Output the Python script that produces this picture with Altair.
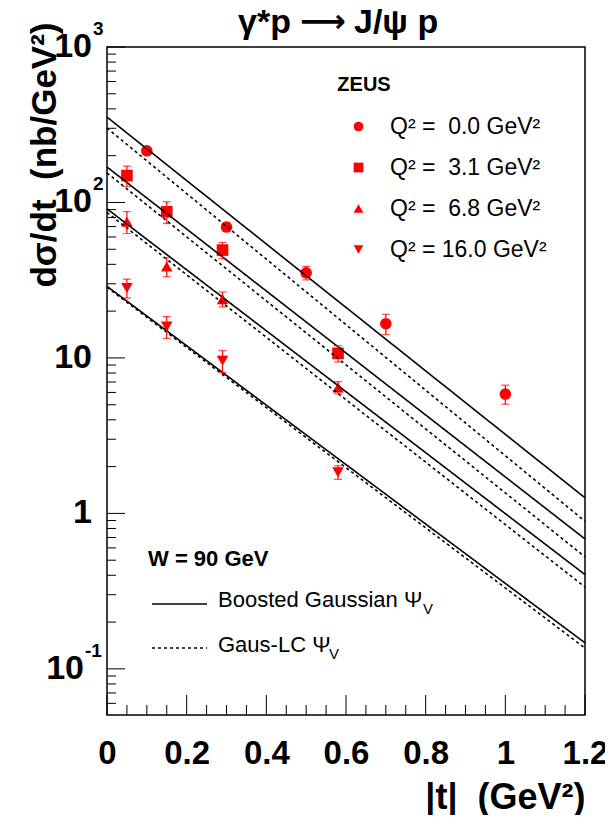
import altair as alt
import pandas as pd

FONT = "Liberation Sans"
NB = "\u00a0"

# ---------------- data ----------------
q_labels = ["Q² =" + NB + " 0.0 GeV²", "Q² =" + NB + " 3.1 GeV²",
            "Q² =" + NB + " 6.8 GeV²", "Q² = 16.0 GeV²"]
q_shapes = ["circle", "square", "triangle-up", "triangle-down"]

t_q0 = [0.10, 0.30, 0.50, 0.70, 1.00]
v_q0 = [215, 69.5, 35.3, 16.6, 5.86]
e_q0 = [0.05, 0.06, 0.10, 0.15, 0.14]

t_q3 = [0.05, 0.15, 0.29, 0.58]
v_q3 = [149, 87.1, 49.4, 10.7]
e_q3 = [0.15, 0.16, 0.12, 0.12]

t_q7 = [0.05, 0.15, 0.29, 0.58]
v_q7 = [75.2, 38.7, 23.9, 6.46]
e_q7 = [0.16, 0.14, 0.11, 0.09]

t_q16 = [0.05, 0.15, 0.29, 0.58]
v_q16 = [28.2, 15.9, 9.6, 1.84]
e_q16 = [0.14, 0.16, 0.16, 0.10]

model_t = [0.0, 1.2]
boosted_vals = [[354, 1.26], [169, 0.685], [91, 0.404], [28.9, 0.147]]
gauslc_vals = [[301, 0.89], [155, 0.525], [86.3, 0.336], [28.5, 0.136]]

x_major = [0, 0.2, 0.4, 0.6, 0.8, 1.0, 1.2]
x_minor = [0.05, 0.1, 0.15, 0.25, 0.3, 0.35, 0.45, 0.5, 0.55, 0.65, 0.7, 0.75,
           0.85, 0.9, 0.95, 1.05, 1.1, 1.15]
y_major = [0.1, 1, 10, 100, 1000]
y_minor = [0.06, 0.07, 0.08, 0.09,
           0.2, 0.3, 0.4, 0.5, 0.6, 0.7, 0.8, 0.9,
           2, 3, 4, 5, 6, 7, 8, 9,
           20, 30, 40, 50, 60, 70, 80, 90,
           200, 300, 400, 500, 600, 700, 800, 900]
ylab_vals = [1000, 100, 10, 1, 0.1]
ylab_base = ["10", "10", "10", "1", "10"]
ylab_sup = ["3", "2", "", "", "-1"]

# ---------------- tables ----------------
rows = []
for lab, ts, vs, es in zip(q_labels, [t_q0, t_q3, t_q7, t_q16],
                           [v_q0, v_q3, v_q7, v_q16], [e_q0, e_q3, e_q7, e_q16]):
    for t, v, e in zip(ts, vs, es):
        rows.append({"t": t, "v": v, "lo": v * (1 - e), "hi": v * (1 + e), "label": lab})
pts = pd.DataFrame(rows)

lrows = []
for i, lab in enumerate(q_labels):
    for model, vals in (("bg", boosted_vals), ("lc", gauslc_vals)):
        for t, v in zip(model_t, vals[i]):
            lrows.append({"t": t, "v": v, "label": lab, "model": model, "key": lab + model})
lines_df = pd.DataFrame(lrows)

xmaj_df = pd.DataFrame({"t": x_major})
xmin_df = pd.DataFrame({"t": x_minor})
ymaj_df = pd.DataFrame({"v": y_major})
ymin_df = pd.DataFrame({"v": y_minor})
ylab_df = pd.DataFrame({"v": ylab_vals, "base": ylab_base, "sup": ylab_sup})

W, H = 478, 668
xscale = alt.Scale(domain=[0, 1.2], nice=False, zero=False)
yscale = alt.Scale(type="log", domain=[0.0505, 1000], nice=False)

xaxis = alt.Axis(values=x_major, format="~g", ticks=False, tickSize=0, domain=False,
                 grid=False, labelFont=FONT, labelFontSize=33, labelFontWeight="bold",
                 labelColor="black", labelPadding=22, labelOverlap=False, labelFlush=False,
                 labelBound=False,
                 title="|t|" + NB + NB + "(GeV²)", titleFont=FONT, titleFontSize=36,
                 titleFontWeight="bold", titleColor="black", titleAnchor="end",
                 titleAlign="right", titleX=W, titleY=93, titleBaseline="alphabetic")
yaxis = alt.Axis(labels=False, ticks=False, tickSize=0, domain=False, grid=False,
                 title="dσ/dt" + NB + NB + "(nb/GeV²)", titleFont=FONT, titleFontSize=35,
                 titleFontWeight="bold", titleColor="black", titleAngle=270,
                 titleAlign="right", titleBaseline="alphabetic", titleX=-52, titleY=-25)

X = alt.X("t:Q", scale=xscale, axis=xaxis)
Y = alt.Y("v:Q", scale=yscale, axis=yaxis)

lines = alt.Chart(lines_df).mark_line(color="black", strokeWidth=1.6).encode(
    x=alt.X("t:Q", scale=xscale),
    y=alt.Y("v:Q", scale=yscale),
    detail="key:N",
    strokeDash=alt.StrokeDash("model:N", scale=alt.Scale(domain=["bg", "lc"],
                              range=[[1, 0], [3, 3]]), legend=None),
)

err = alt.Chart(pts).mark_rule(color="#ff0000", strokeWidth=1.2).encode(
    x=alt.X("t:Q", scale=xscale), y=alt.Y("lo:Q", scale=yscale), y2="hi:Q")
cap_lo = alt.Chart(pts).mark_tick(color="#ff0000", orient="horizontal", size=8,
                                  thickness=1.2).encode(
    x=alt.X("t:Q", scale=xscale), y=alt.Y("lo:Q", scale=yscale))
cap_hi = alt.Chart(pts).mark_tick(color="#ff0000", orient="horizontal", size=8,
                                  thickness=1.2).encode(
    x=alt.X("t:Q", scale=xscale), y=alt.Y("hi:Q", scale=yscale))

points = alt.Chart(pts).mark_point(filled=True, opacity=1, size=135).encode(
    x=X, y=Y,
    color=alt.value("#ff0000"),
    shape=alt.Shape("label:N", scale=alt.Scale(domain=q_labels, range=q_shapes),
                    legend=alt.Legend(title=None, orient="none", legendX=240, legendY=68,
                                      labelFont=FONT, labelFontSize=23, labelColor="black",
                                      symbolSize=95, rowPadding=17, labelOffset=20,
                                      padding=0, symbolStrokeWidth=0)),
)

xt_major = alt.Chart(xmaj_df).mark_rule(color="black", strokeWidth=1).encode(
    x=alt.X("t:Q", scale=xscale), y=alt.value(H), y2=alt.value(H - 20))
xt_minor = alt.Chart(xmin_df).mark_rule(color="black", strokeWidth=1).encode(
    x=alt.X("t:Q", scale=xscale), y=alt.value(H), y2=alt.value(H - 10))
yt_major = alt.Chart(ymaj_df).mark_rule(color="black", strokeWidth=1).encode(
    y=alt.Y("v:Q", scale=yscale), x=alt.value(0), x2=alt.value(18))
yt_minor = alt.Chart(ymin_df).mark_rule(color="black", strokeWidth=1).encode(
    y=alt.Y("v:Q", scale=yscale), x=alt.value(0), x2=alt.value(9))

ylab_base_l = alt.Chart(ylab_df).transform_calculate(
    bx="length(datum.sup) > 1 ? -23 : -15"
).mark_text(align="right", baseline="middle", font=FONT, fontSize=34,
            fontWeight="bold", color="black").encode(
    y=alt.Y("v:Q", scale=yscale), x=alt.X("bx:Q", scale=None), text="base:N")
ylab_sup_l = alt.Chart(ylab_df).transform_filter("length(datum.sup) > 0").transform_calculate(
    sx="length(datum.sup) > 1 ? -22 : -14"
).mark_text(align="left", baseline="alphabetic", dy=-12, font=FONT, fontSize=19,
            fontWeight="bold", color="black").encode(
    y=alt.Y("v:Q", scale=yscale), x=alt.X("sx:Q", scale=None), text="sup:N")

one = alt.Data(values=[{}])
def label(txt, x, y, size=22, weight="normal", align="left", baseline="middle", font=FONT):
    return alt.Chart(one).mark_text(text=txt, font=font, fontSize=size, fontWeight=weight,
                                    align=align, baseline=baseline, color="black").encode(
        x=alt.value(x), y=alt.value(y))

title_a = label("γ*p", 184, -14, size=34, weight="bold", align="right", baseline="alphabetic")
title_arrow = label("⟶", 216, -25, size=32, weight="bold", align="center",
                    baseline="middle", font="DejaVu Sans")
title_b = label("J/ψ p", 247, -14, size=34, weight="bold", align="left", baseline="alphabetic")
zeus = label("ZEUS", 257, 38, size=20, weight="bold", align="center")
wlab = label("W = 90 GeV", 41, 512, size=22, weight="bold")
leg_solid = alt.Chart(one).mark_rule(color="black", strokeWidth=1.6).encode(
    x=alt.value(45), x2=alt.value(100), y=alt.value(557))
leg_dash = alt.Chart(one).mark_rule(color="black", strokeWidth=1.6, strokeDash=[3, 3]).encode(
    x=alt.value(45), x2=alt.value(100), y=alt.value(601))
bg_txt = label("Boosted Gaussian Ψ", 111, 553, size=22)
bg_sub = label("V", 316, 562, size=15)
lc_txt = label("Gaus-LC Ψ", 111, 598, size=22)
lc_sub = label("V", 222, 607, size=15)

chart = alt.layer(
    points, lines, err, cap_lo, cap_hi,
    xt_major, xt_minor, yt_major, yt_minor,
    ylab_base_l, ylab_sup_l,
    title_a, title_arrow, title_b, zeus, wlab, leg_solid, leg_dash,
    bg_txt, bg_sub, lc_txt, lc_sub,
).properties(
    width=W, height=H,
    autosize=alt.AutoSizeParams(type="none"),
    padding={"left": 99, "top": 39, "right": 20, "bottom": 100},
).configure_view(stroke="black", strokeWidth=1.5)

chart.save("out.html", embed_options={"renderer": "svg", "actions": False})
